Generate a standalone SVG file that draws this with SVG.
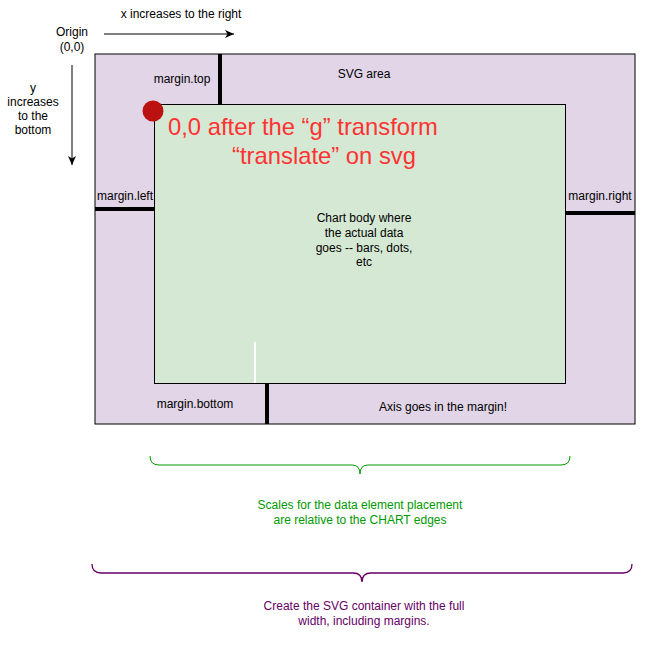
<svg xmlns="http://www.w3.org/2000/svg" width="666" height="646" viewBox="0 0 666 646">
<style>
text{font-family:"Liberation Sans",Arial,sans-serif;font-size:12px;fill:#000}
.c{text-anchor:middle}
.red{fill:#ff3333;font-size:23.8px}
.g{fill:#009900}
.p{fill:#660066}
.m{stroke:#000;stroke-width:4;fill:none}
</style>
<defs>
<marker id="ah" markerWidth="10" markerHeight="10" refX="9" refY="5" orient="auto" markerUnits="userSpaceOnUse">
<path d="M0,1 L9,5 L0,9 L2.5,5 Z" fill="#000"/>
</marker>
</defs>
<rect width="666" height="646" fill="#fff"/>
<g id="svg-area">
<rect x="95" y="54" width="540" height="370" fill="#e1d5e7" stroke="#000" stroke-width="1"/>
<text x="364" y="78" class="c">SVG area</text>
</g>
<g id="chart-body">
<rect x="154.5" y="104.5" width="411" height="279" fill="#d5e8d4" stroke="#000" stroke-width="1"/>
<text class="c"><tspan x="364" y="222">Chart body where</tspan><tspan x="364" y="237">the actual data</tspan><tspan x="364" y="252">goes -- bars, dots,</tspan><tspan x="364" y="266">etc</tspan></text>
</g>
<g id="origin-dot">
<circle cx="153" cy="111" r="10.5" fill="#bb1111"/>
</g>
<g id="translate-label">
<text class="red"><tspan x="168" y="135">0,0 after the “g” transform</tspan><tspan x="324" y="164" class="c">“translate” on svg</tspan></text>
</g>
<g id="labels">
<text x="181" y="18" class="c">x increases to the right</text>
<text class="c"><tspan x="72" y="36">Origin</tspan><tspan x="72" y="51">(0,0)</tspan></text>
<text class="c"><tspan x="33" y="92">y</tspan><tspan x="33" y="106">increases</tspan><tspan x="33" y="120">to the</tspan><tspan x="33" y="134">bottom</tspan></text>
<text x="182" y="83" class="c">margin.top</text>
<text x="125" y="200" class="c">margin.left</text>
<text x="600" y="200" class="c">margin.right</text>
<text x="195" y="408" class="c">margin.bottom</text>
<text x="443" y="411" class="c">Axis goes in the margin!</text>
<text class="c g"><tspan x="360" y="509">Scales for the data element placement</tspan><tspan x="360" y="524">are relative to the CHART edges</tspan></text>
<text class="c p"><tspan x="364" y="610">Create the SVG container with the full</tspan><tspan x="364" y="625">width, including margins.</tspan></text>
</g>
<g id="connectors">
<line x1="104" y1="34" x2="234" y2="34" stroke="#000" stroke-width="1" marker-end="url(#ah)"/>
<line x1="72" y1="65" x2="72" y2="165" stroke="#000" stroke-width="1" marker-end="url(#ah)"/>
<line class="m" x1="220" y1="54" x2="220" y2="104"/>
<line class="m" x1="95" y1="209" x2="154" y2="209"/>
<line class="m" x1="566" y1="213" x2="635" y2="213"/>
<line class="m" x1="267" y1="384" x2="267" y2="424"/>
<line x1="255" y1="342" x2="255" y2="383" stroke="#fff" stroke-width="2"/>
<path d="M150,456 Q150,465 159,465 L352,465 Q360,465 360,474 Q360,465 368,465 L561,465 Q570,465 570,456" fill="none" stroke="#009900" stroke-width="1"/>
<path d="M92,564 Q92,573 101,573 L353,573 Q362,573 362,582 Q362,573 371,573 L623,573 Q632,573 632,564" fill="none" stroke="#660066" stroke-width="1.3"/>
</g>
</svg>
